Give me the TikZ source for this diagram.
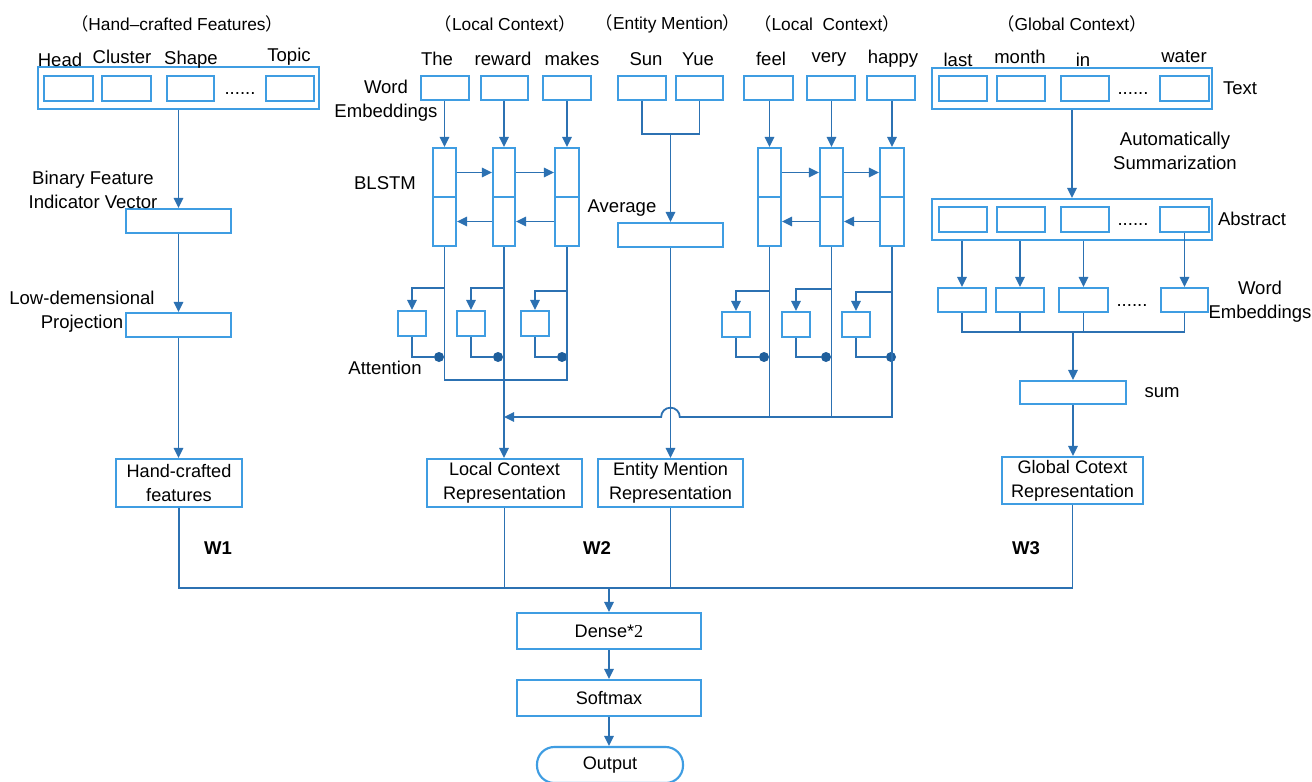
\documentclass[tikz,border=0pt]{standalone}
\usepackage{fontspec}
\setmainfont{Liberation Sans}
\newfontfamily\cjk{Noto Sans CJK SC}
\newfontfamily\serifnum{Liberation Serif}
\usetikzlibrary{arrows.meta,fit,calc}
\definecolor{boxblue}{HTML}{3F9DE2}
\definecolor{lineblue}{HTML}{2C71B2}
\definecolor{dotblue}{HTML}{1F5F9C}
\newcommand\lpar{{\cjk （}}
\newcommand\rpar{{\cjk ）}}
\newcommand\mybox[6][]{\node[box,fit={(#3,#4)(#5,#6)},#1] (#2) {};}
\newcommand\mytbox[7][]{\node[box,fit={(#3,#4)(#5,#6)},#1] (#2) {};
  \node[intext] (#2txt) at (#2.center) {#7};}
\begin{document}
\begin{tikzpicture}[x=0.75pt,y=-0.75pt,
 box/.style={draw=boxblue,line width=1.6pt,inner sep=0pt,fill=white},
 conn/.style={draw=lineblue,line width=1.35pt},
 arr/.style={conn,-{Triangle[length=7.5pt,width=7pt]}},
 lbl/.style={inner sep=0pt,font=\fontsize{13.9}{18}\selectfont,align=center},
 ttl/.style={inner sep=0pt,font=\fontsize{13}{15}\selectfont},
 intext/.style={inner sep=0pt,font=\fontsize{13.6}{18}\selectfont,align=center},
 dotn/.style={circle,fill=dotblue,inner sep=0pt,minimum size=7.5pt},
 wlbl/.style={inner sep=0pt,font=\bfseries\fontsize{13.9}{17}\selectfont}
]
\useasboundingbox (0,0) rectangle (1312,781);
\fill[white] (0,0) rectangle (1312,781);

% ---------- titles ----------
\node[ttl] (t1) at (177,24) {\lpar Hand–crafted Features\rpar};
\node[ttl] (t2) at (505,24) {\lpar Local Context\rpar};
\node[ttl] (t3) at (668,24) {\lpar Entity Mention\rpar};
\node[ttl] (t4) at (827,24) {\lpar Local\ \ Context\rpar};
\node[ttl] (t5) at (1072,24) {\lpar Global Context\rpar};

% ---------- hand-crafted features ----------
\mybox{hcbox}{38}{67}{319}{109}
\mybox{hc1}{44}{76}{93}{101}
\mybox{hc2}{102}{76}{151}{101}
\mybox{hc3}{167}{76}{214}{101}
\mybox{hc4}{266}{76}{314}{101}
\node[lbl] (hcdots) at (240,94) {......};
\node[lbl] (lhead) at (60,60) {Head};
\node[lbl] (lclus) at (122,57) {Cluster};
\node[lbl] (lshape) at (191,60) {Shape};
\node[lbl] (ltopic) at (289,57) {Topic};
\mybox{bin}{126}{209}{231}{233}
\node[lbl] (binl) at (93,190) {Binary Feature\\Indicator Vector};
\mybox{low}{126}{313}{231}{337}
\node[lbl] (lowl) at (82,312) {Low-demensional\\Projection};
\mytbox{hcf}{116}{459}{242}{507}{Hand-crafted\\features}

% ---------- local context (left) ----------
\mybox{w1}{421}{76}{469}{100}
\mybox{w2}{481}{76}{528}{100}
\mybox{w3}{543}{76}{591}{100}
\node[lbl] (lthe) at (437,59) {The};
\node[lbl] (lrew) at (503,59) {reward};
\node[lbl] (lmak) at (572,59) {makes};
\node[lbl] (lwe1) at (386,101) {Word\\Embeddings};
\node[lbl] (lblstm) at (385,183) {BLSTM};
\node[lbl] (latt) at (385,368) {Attention};
\mybox{c1f}{433}{148}{456}{197}
\mybox{c1b}{433}{197}{456}{246}
\mybox{c2f}{493}{148}{515}{197}
\mybox{c2b}{493}{197}{515}{246}
\mybox{c3f}{555}{148}{579}{197}
\mybox{c3b}{555}{197}{579}{246}
\mybox{a1}{398}{311}{426}{336}
\mybox{a2}{457}{311}{485}{336}
\mybox{a3}{521}{311}{549}{336}
\node[dotn] (d1) at (439,357) {};
\node[dotn] (d2) at (498,357) {};
\node[dotn] (d3) at (562,357) {};
\mytbox{lcr}{427}{459}{582}{507}{Local Context\\Representation}

% ---------- entity mention ----------
\mybox{e1}{618}{76}{666}{100}
\mybox{e2}{676}{76}{723}{100}
\node[lbl] (lsun) at (646,59) {Sun};
\node[lbl] (lyue) at (698,59) {Yue};
\mybox{avg}{618}{223}{723}{247}
\node[lbl] (lavg) at (622,208) {Average};
\mytbox{emr}{598}{459}{743}{507}{Entity Mention\\Representation}

% ---------- local context (right) ----------
\mybox{f1}{744}{76}{793}{100}
\mybox{f2}{807}{76}{855}{100}
\mybox{f3}{867}{76}{915}{100}
\node[lbl] (lfeel) at (771,59) {feel};
\node[lbl] (lvery) at (829,59) {very};
\node[lbl] (lhap) at (893,59) {happy};
\mybox{g1f}{758}{148}{781}{197}
\mybox{g1b}{758}{197}{781}{246}
\mybox{g2f}{820}{148}{843}{197}
\mybox{g2b}{820}{197}{843}{246}
\mybox{g3f}{880}{148}{904}{197}
\mybox{g3b}{880}{197}{904}{246}
\mybox{h1}{722}{312}{750}{337}
\mybox{h2}{782}{312}{810}{337}
\mybox{h3}{842}{312}{870}{337}
\node[dotn] (d4) at (764,357) {};
\node[dotn] (d5) at (826,357) {};
\node[dotn] (d6) at (891,357) {};

% ---------- global context ----------
\mybox{gt}{932}{68}{1212}{109}
\mybox{gt1}{939}{76}{987}{101}
\mybox{gt2}{997}{76}{1045}{101}
\mybox{gt3}{1061}{76}{1109}{101}
\mybox{gt4}{1160}{76}{1209}{101}
\node[lbl] (gtdots) at (1133,94) {......};
\node[lbl] (llast) at (958,60) {last};
\node[lbl] (lmonth) at (1020,57) {month};
\node[lbl] (lin) at (1083,60) {in};
\node[lbl] (lwater) at (1184,57) {water};
\node[lbl] (ltext) at (1240,88) {Text};
\node[lbl] (lauto) at (1175,151) {Automatically\\Summarization};
\mybox{ab}{932}{199}{1212}{240}
\mybox{ab1}{939}{207}{987}{232}
\mybox{ab2}{997}{207}{1045}{232}
\mybox{ab3}{1061}{207}{1109}{232}
\mybox{ab4}{1160}{207}{1209}{232}
\node[lbl] (abdots) at (1133,225) {......};
\node[lbl] (labs) at (1252,219) {Abstract};
\mybox{m1}{938}{288}{986}{312}
\mybox{m2}{996}{288}{1044}{312}
\mybox{m3}{1059}{288}{1108}{312}
\mybox{m4}{1161}{288}{1208}{312}
\node[lbl] (mdots) at (1132,306) {......};
\node[lbl] (lwe2) at (1260,302) {Word\\Embeddings};
\mybox{sum}{1020}{381}{1126}{404}
\node[lbl] (lsum) at (1162,393) {sum};
\mytbox{gcr}{1002}{457}{1143}{504}{Global Cotext\\Representation}

% ---------- output part ----------
\node[wlbl] (w1l) at (218,548) {W1};
\node[wlbl] (w2l) at (597,548) {W2};
\node[wlbl] (w3l) at (1026,548) {W3};
\mytbox{dense}{517}{613}{701}{649}{Dense*{\serifnum 2}}
\mytbox{soft}{517}{680}{701}{716}{Softmax}
\mytbox[rounded corners=13pt]{out}{537}{747}{683}{783}{Output}

% ---------- coordinates ----------
\coordinate (lbot) at (0,380);
\coordinate (hl) at (0,417);
\coordinate (hopR) at (679.8,417);
\coordinate (ej) at (670.5,134);
\coordinate (mj) at (0,332);
\coordinate (bl) at (0,588);
\coordinate (br1) at (444.5,288);
\coordinate (br2) at (504,288);
\coordinate (br3) at (567,291);
\coordinate (br4) at (769.5,291);
\coordinate (br5) at (831.5,289);
\coordinate (br6) at (892,292);

% ---------- connectors: hand-crafted ----------
\draw[arr] (hcbox.south) -- (bin.north);
\draw[arr] (bin.south) -- (low.north);
\draw[arr] (low.south) -- (low.south |- hcf.north);

% ---------- connectors: local left ----------
\draw[arr] (w1.south -| c1f.north) -- (c1f.north);
\draw[arr] (w2.south -| c2f.north) -- (c2f.north);
\draw[arr] (w3.south -| c3f.north) -- (c3f.north);
\draw[arr] (c1f.east) -- (c2f.west);
\draw[arr] (c2f.east) -- (c3f.west);
\draw[arr] (c2b.west) -- (c1b.east);
\draw[arr] (c3b.west) -- (c2b.east);
\draw[arr] (br1) -| (a1.north);
\draw[arr] (br2) -| (a2.north);
\draw[arr] (br3) -| (a3.north);
\draw[conn] (a1.south) |- (d1);
\draw[conn] (a2.south) |- (d2);
\draw[conn] (a3.south) |- (d3);
\draw[conn] (c1b.south) -- (c1b.south |- lbot) -- (c3b.south |- lbot) -- (c3b.south);
\draw[arr] (c2b.south) -- (c2b.south |- lcr.north);

% ---------- connectors: entity ----------
\draw[conn] (e1.south) |- (ej) -| (e2.south);
\draw[arr] (ej) -- (ej |- avg.north);
\draw[arr] (avg.south) -- (avg.south |- emr.north);

% ---------- connectors: local right ----------
\draw[arr] (f1.south -| g1f.north) -- (g1f.north);
\draw[arr] (f2.south -| g2f.north) -- (g2f.north);
\draw[arr] (f3.south -| g3f.north) -- (g3f.north);
\draw[arr] (g1f.east) -- (g2f.west);
\draw[arr] (g2f.east) -- (g3f.west);
\draw[arr] (g2b.west) -- (g1b.east);
\draw[arr] (g3b.west) -- (g2b.east);
\draw[arr] (br4) -| (h1.north);
\draw[arr] (br5) -| (h2.north);
\draw[arr] (br6) -| (h3.north);
\draw[conn] (h1.south) |- (d4);
\draw[conn] (h2.south) |- (d5);
\draw[conn] (h3.south) |- (d6);
\draw[conn] (g1b.south) -- (g1b.south |- hl);
\draw[conn] (g2b.south) -- (g2b.south |- hl);
\draw[arr] (g3b.south) |- (hopR) arc[start angle=0,end angle=180,radius=7pt] -- (c2b.south |- hl);

% ---------- connectors: global ----------
\draw[arr] (gt.south) -- (ab.north);
\draw[arr] (m1.north |- ab.south) -- (m1.north);
\draw[arr] (m2.north |- ab.south) -- (m2.north);
\draw[arr] (m3.north |- ab.south) -- (m3.north);
\draw[arr] (ab4.south) -- (m4.north);
\draw[conn] (m1.south) |- (m4.south |- mj) -- (m4.south);
\draw[conn] (m2.south) -- (m2.south |- mj);
\draw[conn] (m3.south) -- (m3.south |- mj);
\draw[arr] (sum.north |- mj) -- (sum.north);
\draw[arr] (sum.south) -- (sum.south |- gcr.north);

% ---------- connectors: bottom ----------
\draw[conn] (hcf.south) |- (gcr.south |- bl) -- (gcr.south);
\draw[conn] (lcr.south) -- (lcr.south |- bl);
\draw[conn] (emr.south) -- (emr.south |- bl);
\draw[arr] (dense.north |- bl) -- (dense.north);
\draw[arr] (dense.south) -- (soft.north);
\draw[arr] (soft.south) -- (soft.south |- out.north);
\end{tikzpicture}
\end{document}
